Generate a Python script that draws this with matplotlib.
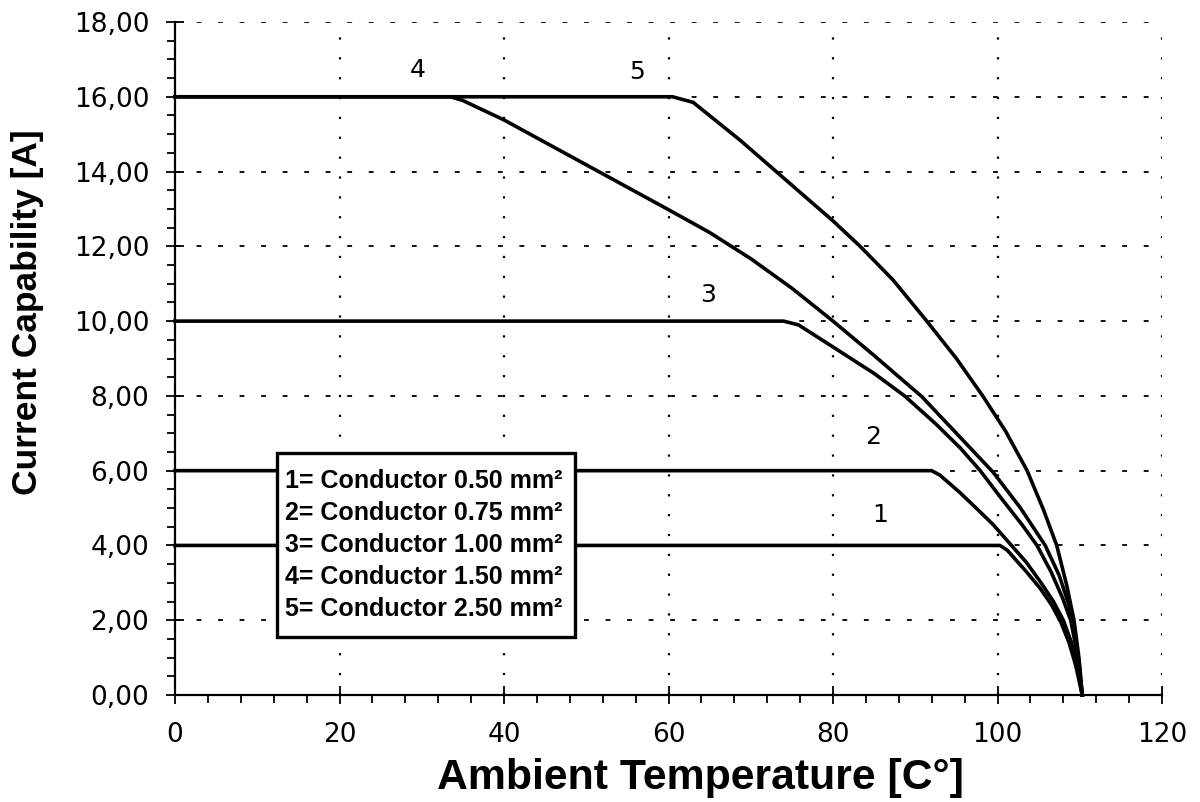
import matplotlib
matplotlib.use("Agg")
import matplotlib.pyplot as plt
from matplotlib.ticker import MultipleLocator, FuncFormatter
from matplotlib.patches import Rectangle

# ---- data ----
c1_x = [0, 100.3, 101.2, 103.5, 105.2, 106.6, 107.7, 108.7, 109.5, 110.3]
c1_y = [4.0, 4.0, 3.87, 3.3, 2.85, 2.4, 1.95, 1.4, 0.8, 0.0]

c2_x = [0, 92.0, 93.0, 95.4, 97.5, 99.5, 101.5, 103.5, 105.3, 106.8, 108.0, 109.0, 109.7, 110.3]
c2_y = [6.0, 6.0, 5.88, 5.42, 4.98, 4.55, 4.05, 3.55, 3.0, 2.5, 2.0, 1.4, 0.75, 0.0]

c3_x = [0, 74.0, 75.8, 80.2, 85.0, 88.7, 92.5, 95.5, 97.9, 100.5, 103.0, 104.8, 106.5,
        107.9, 108.9, 109.7, 110.3]
c3_y = [10.0, 10.0, 9.9, 9.28, 8.6, 8.0, 7.25, 6.6, 6.0, 5.25, 4.55, 4.0, 3.3,
        2.6, 2.0, 1.1, 0.0]

c4_x = [0, 33.5, 35.0, 40.0, 45.0, 50.0, 55.0, 60.0, 65.0, 70.0, 75.0, 80.0, 85.0, 90.8,
        95.0, 99.5, 102.8, 105.8, 107.5, 108.7, 109.5, 110.0, 110.3]
c4_y = [16.0, 16.0, 15.9, 15.38, 14.78, 14.18, 13.58, 12.98, 12.37, 11.67, 10.88, 10.0, 9.08, 7.98,
        7.0, 5.95, 5.0, 4.0, 3.2, 2.4, 1.5, 0.7, 0.0]

c5_x = [0, 60.5, 63.0, 68.7, 73.2, 80.0, 83.3, 87.3, 91.4, 95.0, 98.2, 101.0, 103.6,
        105.6, 107.2, 108.4, 109.3, 109.9, 110.3]
c5_y = [16.0, 16.0, 15.85, 14.84, 13.98, 12.68, 12.0, 11.1, 10.0, 9.0, 8.0, 7.05, 6.0,
        4.95, 4.0, 2.95, 2.0, 1.0, 0.0]

curve_ids = ["1", "2", "3", "4", "5"]
legend_lines = ["1= Conductor 0.50 mm²", "2= Conductor 0.75 mm²", "3= Conductor 1.00 mm²",
                "4= Conductor 1.50 mm²", "5= Conductor 2.50 mm²"]
x_ticks = [0, 20, 40, 60, 80, 100, 120]
y_ticks = [0, 2, 4, 6, 8, 10, 12, 14, 16, 18]

plt.rcParams['lines.scale_dashes'] = False

fig = plt.figure(figsize=(12, 8.02), dpi=100)
ax = fig.add_axes([175/1200, 1-695/802, 987/1200, 673/802])

ax.set_xlim(0, 120)
ax.set_ylim(0, 18)

# grid
for yv in y_ticks[1:]:
    ax.axhline(yv, color='black', lw=1.3, linestyle=(0, (3.5, 12)), zorder=1)
for xv in x_ticks[1:]:
    ax.axvline(xv, color='black', lw=1.6, linestyle=(0, (1.6, 12.7)), zorder=1)

curves = [(c1_x, c1_y), (c2_x, c2_y), (c3_x, c3_y), (c4_x, c4_y), (c5_x, c5_y)]
for xs, ys in curves:
    ax.plot(xs, ys, color='black', lw=2.6, solid_joinstyle='round', zorder=3, clip_on=False)

# curve number labels
label_pos = [(85.7, 4.81), (84.9, 6.9), (64.8, 10.7), (29.5, 16.72), (56.2, 16.66)]
for cid, (lx, ly) in zip(curve_ids, label_pos):
    ax.text(lx, ly, cid, fontsize=18, family='DejaVu Sans', ha='center', va='center', zorder=4)

# legend box
ax.add_patch(Rectangle((0.1033, 0.0862), 0.302, 0.2734, transform=ax.transAxes,
                       fc='white', ec='black', lw=2.4, zorder=5))
ax.text(0.1114, 0.2229, "\n".join(legend_lines), transform=ax.transAxes,
        fontsize=18, fontweight='bold', family='Liberation Sans',
        ha='left', va='center', linespacing=1.42, zorder=6)

# spines
for s in ['top', 'right']:
    ax.spines[s].set_visible(False)
for s in ['left', 'bottom']:
    ax.spines[s].set_linewidth(1.6)
    ax.spines[s].set_zorder(2)

ax.set_xticks(x_ticks)
ax.set_yticks(y_ticks)
ax.xaxis.set_minor_locator(MultipleLocator(4))
ax.yaxis.set_minor_locator(MultipleLocator(0.5))
ax.yaxis.set_major_formatter(FuncFormatter(lambda v, p: f"{v:.2f}".replace('.', ',')))
ax.tick_params(which='major', direction='inout', length=13, width=1.3, labelsize=19)
ax.tick_params(axis='y', which='major', pad=12)
ax.tick_params(axis='x', which='major', pad=13)
ax.tick_params(which='minor', direction='out', length=6, width=1.3)
for lab in ax.get_xticklabels() + ax.get_yticklabels():
    lab.set_family('DejaVu Sans')

fig.text(700/1200, 1-778/802, "Ambient Temperature [C°]", fontsize=30.8, fontweight='bold',
         family='Liberation Sans', ha='center', va='center')
fig.text(28/1200, 1-312/802, "Current Capability [A]", fontsize=25.5, fontweight='bold',
         family='Liberation Sans', ha='center', va='center', rotation=90)

fig.savefig("out.png", dpi=100)
